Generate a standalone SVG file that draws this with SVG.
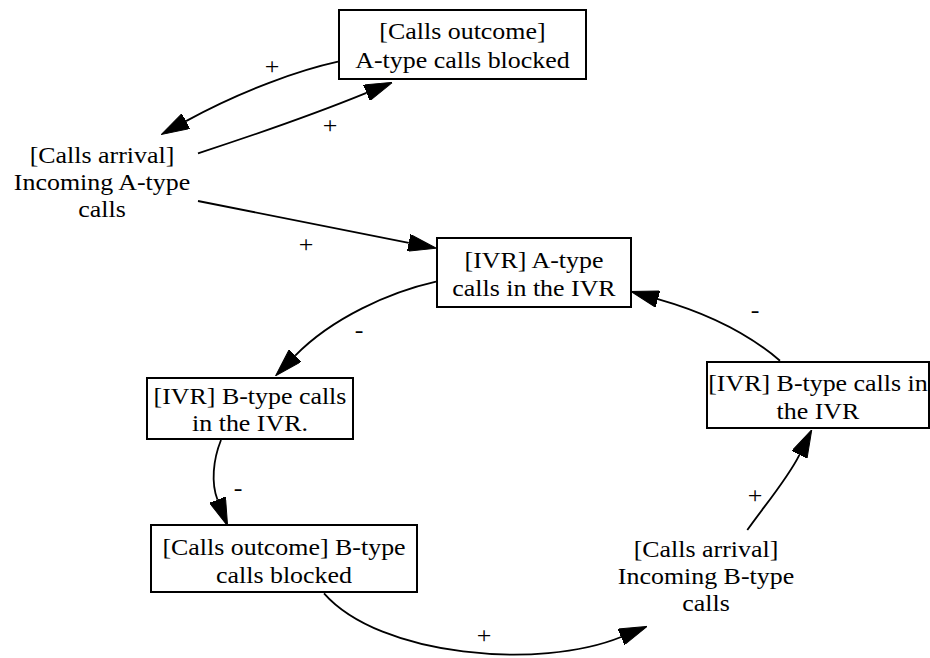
<svg xmlns="http://www.w3.org/2000/svg" width="930" height="658" viewBox="0 0 930 658">
  <style>
    .box { fill: #ffffff; stroke: #000000; stroke-width: 2; }
    .lbl { font-family: "Liberation Serif", "Times New Roman", serif; font-size: 24px; fill: #000000; text-anchor: middle;
           transform-box: fill-box; transform-origin: center; transform: scaleX(1.08); }
    .edge { fill: none; stroke: #000000; stroke-width: 1.8; marker-end: url(#arrow); }
  </style>
  <defs>
    <marker id="arrow" viewBox="0 0 28 17" refX="0" refY="8.5" markerWidth="28" markerHeight="17" markerUnits="userSpaceOnUse" orient="auto">
      <path d="M0,0 L28,8.5 L0,17 z" fill="#000000" stroke="#000000" stroke-width="1"/>
    </marker>
  </defs>
  <rect width="930" height="658" fill="#ffffff"/>

  <!-- connectors -->
  <g id="edges">
    <path class="edge" d="M338,61.7 C300,70 243,90 186,121.1"/>
    <path class="edge" d="M198,153.3 C245,138 305,118 366.5,92.9"/>
    <path class="edge" d="M198,201 L408.8,242.8"/>
    <path class="edge" d="M436,281.7 C390,292 332,318 295.2,355.7"/>
    <path class="edge" d="M780,360.7 C750,335 707,313 657.9,299.1"/>
    <path class="edge" d="M221,440 C213,460 211,483 217.5,499.8"/>
    <path class="edge" d="M324,593.3 C380,657 540,670 621.1,637"/>
    <path class="edge" d="M747.3,530 C765,505 788,478 799.4,454.8"/>
    <text class="lbl" x="272" y="74">+</text>
    <text class="lbl" x="330" y="133">+</text>
    <text class="lbl" x="306" y="252">+</text>
    <text class="lbl" x="359" y="338">-</text>
    <text class="lbl" x="755" y="318">-</text>
    <text class="lbl" x="238" y="496">-</text>
    <text class="lbl" x="484" y="643">+</text>
    <text class="lbl" x="755" y="503">+</text>
  </g>

  <g id="a_blocked">
    <rect class="box" x="339" y="10" width="247" height="69"/>
    <text class="lbl" x="462.5" y="39">[Calls outcome]</text>
    <text class="lbl" x="462.5" y="68">A-type calls blocked</text>
  </g>

  <g id="a_incoming">
    <text class="lbl" x="102" y="163">[Calls arrival]</text>
    <text class="lbl" x="102" y="190">Incoming A-type</text>
    <text class="lbl" x="102" y="217">calls</text>
  </g>

  <g id="a_ivr">
    <rect class="box" x="437" y="238" width="194" height="69"/>
    <text class="lbl" x="534" y="268.5">[IVR] A-type</text>
    <text class="lbl" x="534" y="296.5">calls in the IVR</text>
  </g>

  <g id="b_ivr_left">
    <rect class="box" x="147" y="378" width="206" height="61"/>
    <text class="lbl" x="250" y="404">[IVR] B-type calls</text>
    <text class="lbl" x="250" y="431">in the IVR.</text>
  </g>

  <g id="b_ivr_right">
    <rect class="box" x="707" y="362" width="222" height="66"/>
    <text class="lbl" x="818" y="391">[IVR] B-type calls in</text>
    <text class="lbl" x="818" y="419">the IVR</text>
  </g>

  <g id="b_blocked">
    <rect class="box" x="151" y="525" width="266" height="67"/>
    <text class="lbl" x="284" y="555">[Calls outcome] B-type</text>
    <text class="lbl" x="284" y="583">calls blocked</text>
  </g>

  <g id="b_incoming">
    <text class="lbl" x="706" y="557">[Calls arrival]</text>
    <text class="lbl" x="706" y="584">Incoming B-type</text>
    <text class="lbl" x="706" y="611">calls</text>
  </g>
</svg>
